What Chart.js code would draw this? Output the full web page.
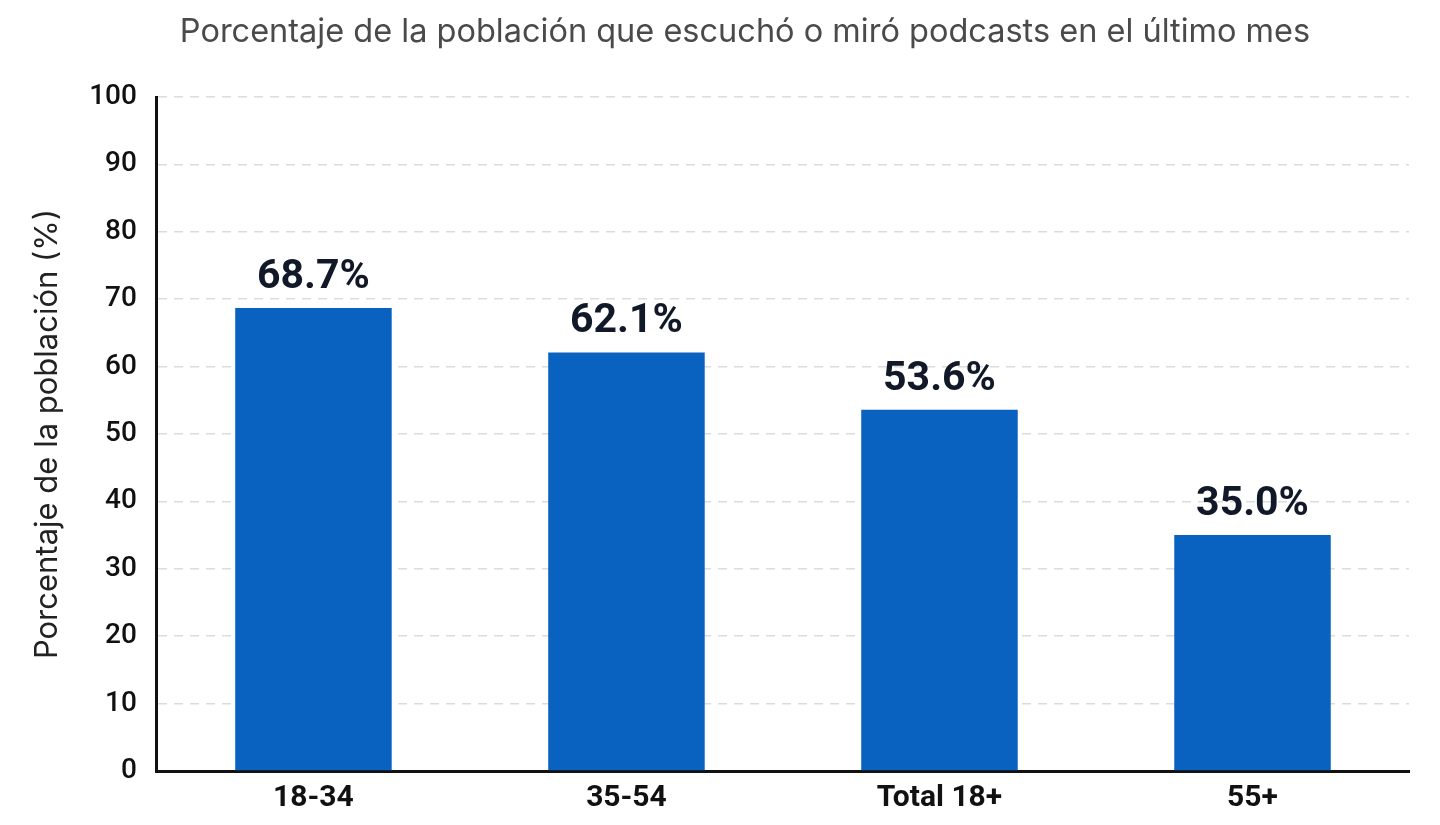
<!DOCTYPE html>
<html>
<head>
<meta charset="utf-8">
<script src="https://cdn.jsdelivr.net/npm/chart.js@4/dist/chart.umd.min.js"></script>
<style>
  html, body { margin: 0; padding: 0; background: #fff; }
  #wrap { width: 1440px; height: 825px; }
</style>
</head>
<body>
<div id="wrap"><canvas id="podcast-chart"></canvas></div>
<script>
var chartTitle = "Porcentaje de la población que escuchó o miró podcasts en el último mes";
var categories = ["18-34", "35-54", "Total 18+", "55+"];
var values = [68.7, 62.1, 53.6, 35.0];
var yTicks = [0, 10, 20, 30, 40, 50, 60, 70, 80, 90, 100];

// title sits a bit left of the plot centre in the original, so draw it here
var topTitle = {
  id: "topTitle",
  afterDraw: function(chart) {
    var ctx = chart.ctx;
    ctx.save();
    ctx.font = "32.5px Inter";
    ctx.fillStyle = "#4a4a4a";
    ctx.textAlign = "center";
    ctx.textBaseline = "alphabetic";
    ctx.fillText(chartTitle, 745, 42);
    ctx.restore();
  }
};

// value labels above each bar
var barLabels = {
  id: "barLabels",
  afterDatasetsDraw: function(chart) {
    var ctx = chart.ctx;
    var meta = chart.getDatasetMeta(0);
    ctx.save();
    ctx.font = "bold 41px Roboto";
    ctx.fillStyle = "#111827";
    ctx.textAlign = "center";
    ctx.textBaseline = "alphabetic";
    meta.data.forEach(function(bar, i) {
      ctx.fillText(values[i].toFixed(1) + "%", bar.x, bar.y - 20);
    });
    ctx.restore();
  }
};

var ctx = document.getElementById("podcast-chart");
var myChart = new Chart(ctx, {
  type: "bar",
  data: {
    labels: categories,
    datasets: [{
      label: "Porcentaje",
      data: values,
      backgroundColor: "#0a62c0",
      barPercentage: 0.5,
      categoryPercentage: 1.0
    }]
  },
  options: {
    responsive: true,
    maintainAspectRatio: false,
    animation: false,
    layout: { padding: { top: 97, right: 31, left: 29, bottom: 0 } },
    plugins: {
      legend: { display: false },
      tooltip: { enabled: false },
      title: { display: false }
    },
    scales: {
      x: {
        grid: { display: false, drawTicks: false },
        border: { color: "#111", width: 3 },
        ticks: {
          color: "#111",
          padding: 18,
          font: { family: "Roboto", size: 30, weight: "bold", lineHeight: 0.6 }
        }
      },
      y: {
        min: 0,
        max: 100,
        afterBuildTicks: function(axis) {
          axis.ticks = yTicks.map(function(v) { return { value: v }; });
        },
        grid: { color: "#dcdcdc", lineWidth: 1.5, drawTicks: false },
        border: { color: "#111", width: 3, dash: [9, 7] },
        ticks: {
          color: "#111",
          padding: 20,
          font: { family: "Roboto", size: 28, weight: 500 }
        },
        title: {
          display: true,
          text: "Porcentaje de la población (%)",
          color: "#222",
          padding: { top: 0, bottom: 3 },
          font: { family: "Inter", size: 31, weight: "normal" }
        }
      }
    }
  },
  plugins: [barLabels, topTitle]
});
</script>
</body>
</html>
